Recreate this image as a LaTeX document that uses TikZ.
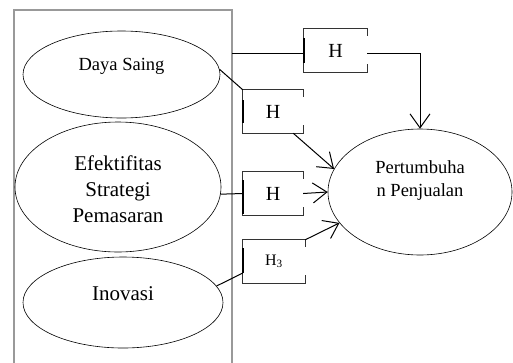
\documentclass[tikz,border=0pt]{standalone}
\usepackage{fontspec}
\setmainfont{Liberation Serif}
\usetikzlibrary{shapes.geometric,arrows.meta}
\tikzset{
  oval/.style={ellipse, draw, line width=0.6pt, inner sep=0pt},
  hbox/.style={rectangle, draw=none, inner sep=0pt},
  boxline/.style={line width=1pt, draw=black!80},
  bar/.style={line width=2.6pt},
  conn/.style={line width=1pt},
  arr/.style={conn, -{Straight Barb[length=14pt,width=20pt,line width=1pt]}},
  bigtxt/.style={font=\fontsize{21}{26}\selectfont, align=center},
  midtxt/.style={font=\fontsize{18.5}{23}\selectfont, align=center},
}
\begin{document}
\begin{tikzpicture}[x=1pt,y=-1pt]
\useasboundingbox (0,0) rectangle (513,362);
% gray frame (open at bottom)
\coordinate (fbl) at (14,363);
\coordinate (ftl) at (14,10);
\coordinate (ftr) at (232,10);
\coordinate (fbr) at (232,363);
\draw[gray!80, line width=1.1pt] (fbl) -- (ftl) -- (ftr) -- (fbr);
% ellipses
\node[oval, minimum width=197pt, minimum height=87pt] (ds) at (121.5,74.5) {};
\node[oval, minimum width=206pt, minimum height=130pt] (ef) at (118,187) {};
\node[oval, minimum width=200pt, minimum height=91pt] (inv) at (123,302.5) {};
\node[oval, minimum width=184pt, minimum height=126pt] (pt) at (420,192) {};
\node[midtxt] (dst) at ([yshift=8pt]ds.center) {Daya Saing};
\node[bigtxt] (eft) at ([yshift=-2pt]ef.center) {Efektifitas\\Strategi\\Pemasaran};
\node[bigtxt] (invt) at ([yshift=9pt]inv.center) {Inovasi};
\node[midtxt] (ptt) at ([yshift=11pt]pt.center) {Pertumbuha\\n Penjualan};
% H boxes
\node[hbox, minimum width=63pt, minimum height=43pt, font=\fontsize{20}{24}\selectfont] (b1) at (335.5,50.5) {H};
\node[hbox, minimum width=60pt, minimum height=43pt, font=\fontsize{20}{24}\selectfont] (b2) at (273,111.5) {H};
\node[hbox, minimum width=60pt, minimum height=43pt, font=\fontsize{20}{24}\selectfont] (b3) at (273,193.5) {H};
\node[hbox, minimum width=62pt, minimum height=43pt, font=\fontsize{16}{20}\selectfont] (b4) at (274,261.5) {H\textsubscript{3}};
\foreach \b in {b1,b2,b3,b4}{
  \draw[boxline] ([yshift=-7pt]\b.north east) -- (\b.north east) -- (\b.north west)
    -- (\b.south west) -- (\b.south east) -- ([yshift=8pt]\b.south east);
}
\draw[bar] ([yshift=12.5pt]b1.west) -- ([yshift=-12.5pt]b1.west);
\draw[bar] ([yshift=11.5pt]b2.west) -- ([yshift=-11.5pt]b2.west);
\draw[bar] ([yshift=13.5pt]b3.west) -- ([yshift=-20pt]b3.west);
\draw[bar] ([yshift=13.5pt]b4.west) -- ([yshift=-11.5pt]b4.west);
% connectors
\coordinate (f1) at (232,53);
\draw[conn] (f1) -- (f1 -| b1.west);
\draw[arr] (b1.east |- f1) -| (pt.north);
\draw[conn] (ds.3) -- (b2.north west);
\draw[arr] ([xshift=-10pt]b2.south east) -- (pt.165);
\draw[conn] (ef.-4) -- (b3.west);
\draw[arr] (b3.east) -- (pt.west);
\draw[conn] (inv.10) -- ([yshift=-11.5pt]b4.west);
\draw[arr] (b4.north east) -- (pt.201);
\end{tikzpicture}
\end{document}
